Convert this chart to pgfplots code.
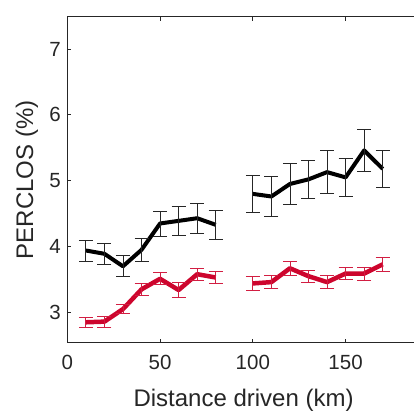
\documentclass[border=0pt]{standalone}
\usepackage{pgfplots}
\usepackage{pgfplotstable}
\pgfplotsset{compat=1.18}
\usetikzlibrary{calc}
\usepackage{fontspec}
\setmainfont{Liberation Sans}
\definecolor{axgray}{RGB}{38,38,38}
\definecolor{perred}{RGB}{205,5,45}

% x  y  err
\pgfplotstableread{
x y e
10 3.94 0.16
20 3.89 0.16
30 3.70 0.16
40 3.95 0.18
50 4.35 0.19
60 4.39 0.22
70 4.43 0.23
80 4.33 0.22
}\blackA
\pgfplotstableread{
x y e
100 4.80 0.28
110 4.76 0.30
120 4.95 0.31
130 5.02 0.29
140 5.13 0.33
150 5.05 0.29
160 5.46 0.32
170 5.18 0.28
}\blackB
\pgfplotstableread{
x y e
10 2.85 0.08
20 2.86 0.085
30 3.05 0.07
40 3.35 0.095
50 3.51 0.09
60 3.34 0.115
70 3.58 0.095
80 3.53 0.095
}\redA
\pgfplotstableread{
x y e
100 3.44 0.11
110 3.46 0.10
120 3.67 0.11
130 3.55 0.095
140 3.46 0.10
150 3.59 0.095
160 3.59 0.10
170 3.73 0.105
}\redB

\pgfplotsset{
  blk/.style={black, line width=4bp, line join=round,
    error bars/error bar style={axgray, line width=0.8bp},
    error bars/error mark options={rotate=90, mark size=7bp, line width=0.8bp, axgray}},
  rd/.style={perred, line width=4.5bp, line join=round,
    error bars/error bar style={perred!90, line width=0.8bp},
    error bars/error mark options={rotate=90, mark size=7bp, line width=0.8bp, perred!90}},
}

\begin{document}
\begin{tikzpicture}
\begin{axis}[
    name=ax,
    scale only axis,
    width=352.5bp, height=326bp,
    xmin=0, xmax=190, ymin=2.54, ymax=7.49,
    xtick={0,50,100,150}, ytick={3,4,5,6,7},
    tick align=inside,
    major tick length=4bp,
    axis line style={axgray, line width=0.7bp},
    every tick/.style={axgray, line width=0.7bp},
    tick label style={font=\fontsize{20.5bp}{24bp}\selectfont, text=axgray},
    label style={font=\fontsize{24bp}{28bp}\selectfont, text=axgray},
    /pgf/number format/assume math mode=true,
    xticklabel style={yshift=-9bp},
    yticklabel style={xshift=-3bp},
    xlabel={Distance driven (km)},
    ylabel={PERCLOS (\%)},
    xlabel style={at={($(axis description cs:0.5,0)+(0,-63.3bp)$)}, anchor=base},
    ylabel style={at={($(axis description cs:0,0.5)+(-34.1bp,0)$)}, anchor=base, rotate=0},
    clip=false,
    error bars/y dir=both,
    error bars/y explicit,
]
\addplot[blk] table[x=x, y=y, y error=e] {\blackA};
\addplot[blk] table[x=x, y=y, y error=e] {\blackB};
\addplot[rd] table[x=x, y=y, y error=e] {\redA};
\addplot[rd] table[x=x, y=y, y error=e] {\redB};
\end{axis}
\pgfresetboundingbox
\path[use as bounding box] (ax.south west) ++(-67.3bp,-70.3bp) rectangle ++(414bp,413bp);
\end{tikzpicture}
\end{document}
